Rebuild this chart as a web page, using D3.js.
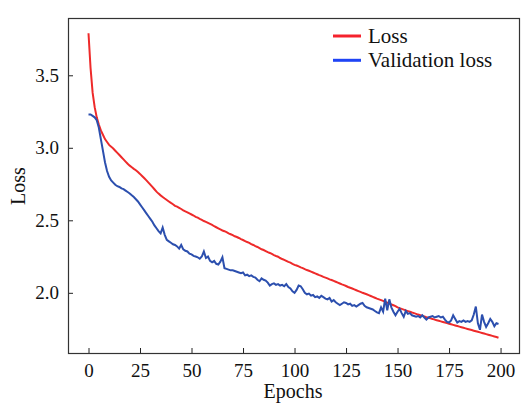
<!DOCTYPE html>
<html>
<head>
<meta charset="utf-8">
<script src="https://cdn.jsdelivr.net/npm/d3@7"></script>
<style>
  body { margin: 0; background: #fff; }
  svg text { font-family: "Liberation Serif", "DejaVu Serif", serif; fill: #111; }
</style>
</head>
<body>
<svg id="chart" width="521" height="403"></svg>
<script>
// Training loss per epoch
const loss = [
  3.79, 3.55, 3.38, 3.28, 3.21, 3.16, 3.12, 3.09, 3.06, 3.04,
  3.02, 3.008, 2.995, 2.98, 2.965, 2.95, 2.935, 2.92, 2.905, 2.89,
  2.877, 2.866, 2.855, 2.845, 2.833, 2.82, 2.806, 2.792, 2.777, 2.762,
  2.746, 2.73, 2.714, 2.698, 2.684, 2.672, 2.661, 2.65, 2.64, 2.63,
  2.62, 2.611, 2.60, 2.594, 2.586, 2.578, 2.569, 2.561, 2.555, 2.547,
  2.54, 2.533, 2.524, 2.518, 2.51, 2.503, 2.495, 2.489, 2.482, 2.475,
  2.468, 2.459, 2.452, 2.445, 2.437, 2.43, 2.425, 2.418, 2.41, 2.404,
  2.398, 2.39, 2.385, 2.378, 2.37, 2.364, 2.357, 2.35, 2.345, 2.336,
  2.33, 2.322, 2.316, 2.308, 2.30, 2.295, 2.288, 2.28, 2.275, 2.268,
  2.26, 2.254, 2.249, 2.24, 2.233, 2.227, 2.22, 2.213, 2.208, 2.20,
  2.193, 2.188, 2.182, 2.175, 2.17, 2.163, 2.157, 2.152, 2.146, 2.14,
  2.134, 2.128, 2.122, 2.117, 2.11, 2.105, 2.10, 2.093, 2.088, 2.082,
  2.076, 2.07, 2.064, 2.058, 2.053, 2.047, 2.04, 2.035, 2.03, 2.024,
  2.018, 2.012, 2.006, 2.00, 1.995, 1.99, 1.984, 1.978, 1.972, 1.966,
  1.96, 1.955, 1.95, 1.944, 1.938, 1.932, 1.926, 1.92, 1.914, 1.908,
  1.90, 1.894, 1.889, 1.884, 1.879, 1.874, 1.869, 1.864, 1.86, 1.855,
  1.85, 1.846, 1.841, 1.837, 1.832, 1.828, 1.824, 1.82, 1.815, 1.811,
  1.807, 1.803, 1.799, 1.795, 1.791, 1.787, 1.783, 1.779, 1.775, 1.771,
  1.767, 1.763, 1.759, 1.755, 1.751, 1.747, 1.743, 1.739, 1.735, 1.731,
  1.727, 1.723, 1.719, 1.715, 1.711, 1.707, 1.703, 1.699, 1.695, 1.69
];

// Validation loss per epoch
const valLoss = [
  3.23, 3.23, 3.22, 3.21, 3.19, 3.14, 3.06, 2.98, 2.90, 2.84,
  2.80, 2.775, 2.76, 2.745, 2.735, 2.73, 2.72, 2.715, 2.705, 2.695,
  2.685, 2.672, 2.66, 2.645, 2.63, 2.61, 2.59, 2.57, 2.55, 2.53,
  2.51, 2.49, 2.465, 2.445, 2.425, 2.41, 2.45, 2.40, 2.365, 2.355,
  2.345, 2.335, 2.33, 2.32, 2.305, 2.33, 2.30, 2.29, 2.285, 2.27,
  2.265, 2.255, 2.25, 2.245, 2.235, 2.25, 2.285, 2.24, 2.25, 2.22,
  2.21, 2.22, 2.20, 2.195, 2.215, 2.245, 2.17, 2.165, 2.16, 2.155,
  2.155, 2.15, 2.145, 2.14, 2.135, 2.14, 2.12, 2.125, 2.115, 2.12,
  2.11, 2.105, 2.09, 2.08, 2.10, 2.09, 2.085, 2.07, 2.05, 2.06,
  2.065, 2.055, 2.06, 2.05, 2.055, 2.045, 2.06, 2.04, 2.03, 2.01,
  2.00, 2.02, 2.05, 2.045, 2.025, 2.00, 1.99, 1.995, 1.98, 1.985,
  1.97, 1.975, 1.965, 1.98, 1.97, 1.96, 1.955, 1.965, 1.94, 1.95,
  1.935, 1.925, 1.915, 1.925, 1.935, 1.93, 1.92, 1.925, 1.91, 1.915,
  1.905, 1.915, 1.925, 1.93, 1.91, 1.90, 1.895, 1.89, 1.885, 1.875,
  1.865, 1.86, 1.90, 1.87, 1.96, 1.88, 1.955, 1.90, 1.87, 1.845,
  1.87, 1.89, 1.86, 1.835, 1.875, 1.855, 1.86, 1.845, 1.84, 1.835,
  1.84, 1.83, 1.845, 1.83, 1.815, 1.83, 1.835, 1.84, 1.83, 1.835,
  1.84, 1.83, 1.835, 1.815, 1.80, 1.795, 1.81, 1.845, 1.82, 1.795,
  1.805, 1.80, 1.81, 1.80, 1.805, 1.80, 1.81, 1.85, 1.905, 1.79,
  1.745, 1.85, 1.80, 1.765, 1.79, 1.82, 1.80, 1.77, 1.79, 1.785
];

const epochs = d3.range(loss.length);
const xTicks = [0, 25, 50, 75, 100, 125, 150, 175, 200];
const yTicks = [2.0, 2.5, 3.0, 3.5];
const legendItems = [
  { label: "Loss", color: "#f5222d" },
  { label: "Validation loss", color: "#1f44f5" }
];

const serif = '"Liberation Serif", "DejaVu Serif", serif';
const svg = d3.select("#chart");
const plot = { left: 68, top: 18, right: 519, bottom: 353 };

const x = d3.scaleLinear().domain([-9.95, 208.95]).range([plot.left, plot.right]);
const y = d3.scaleLinear().domain([1.585, 3.895]).range([plot.bottom, plot.top]);

// Achsen (Ticks nach innen)
const xAxis = svg.append("g")
  .attr("transform", `translate(0,${plot.bottom})`)
  .call(d3.axisBottom(x).tickValues(xTicks).tickSize(-5).tickPadding(11).tickFormat(d3.format("d")));
const yAxis = svg.append("g")
  .attr("transform", `translate(${plot.left},0)`)
  .call(d3.axisLeft(y).tickValues(yTicks).tickSize(-5).tickPadding(9).tickFormat(d3.format(".1f")));

[xAxis, yAxis].forEach((a) => {
  a.attr("font-family", serif).attr("font-size", 19);
  a.select(".domain").remove();
  a.selectAll(".tick line").attr("stroke", "#222").attr("stroke-width", 1);
  a.selectAll(".tick text").attr("fill", "#111");
});

// Rahmen
svg.append("rect")
  .attr("x", plot.left + 0.5).attr("y", plot.top + 0.5)
  .attr("width", plot.right - plot.left).attr("height", plot.bottom - plot.top)
  .attr("fill", "none").attr("stroke", "#333").attr("stroke-width", 1.2);

// Linien
const line = (vals) => d3.line().x((d, i) => x(epochs[i])).y((d) => y(d))(vals);

svg.append("path").attr("d", line(loss))
  .attr("fill", "none").attr("stroke", "#ee2a2a").attr("stroke-width", 2);
svg.append("path").attr("d", line(valLoss))
  .attr("fill", "none").attr("stroke", "#2c4fae").attr("stroke-width", 2);

// Achsentitel
svg.append("text")
  .attr("x", 293).attr("y", 398)
  .attr("text-anchor", "middle").attr("font-family", serif).style("font-size", "20px")
  .text("Epochs");
svg.append("text")
  .attr("transform", "translate(25,186) rotate(-90)")
  .attr("text-anchor", "middle").attr("font-family", serif).style("font-size", "20px")
  .text("Loss");

// Legende
const leg = svg.append("g").selectAll("g").data(legendItems).enter().append("g")
  .attr("transform", (d, i) => `translate(333,${36 + i * 24.3})`);
leg.append("line")
  .attr("x1", 0).attr("x2", 28).attr("y1", 0).attr("y2", 0)
  .attr("stroke", (d) => d.color).attr("stroke-width", 3);
leg.append("text")
  .attr("x", 35).attr("y", 7)
  .attr("font-family", serif).style("font-size", "21px")
  .text((d) => d.label);
</script>
</body>
</html>
